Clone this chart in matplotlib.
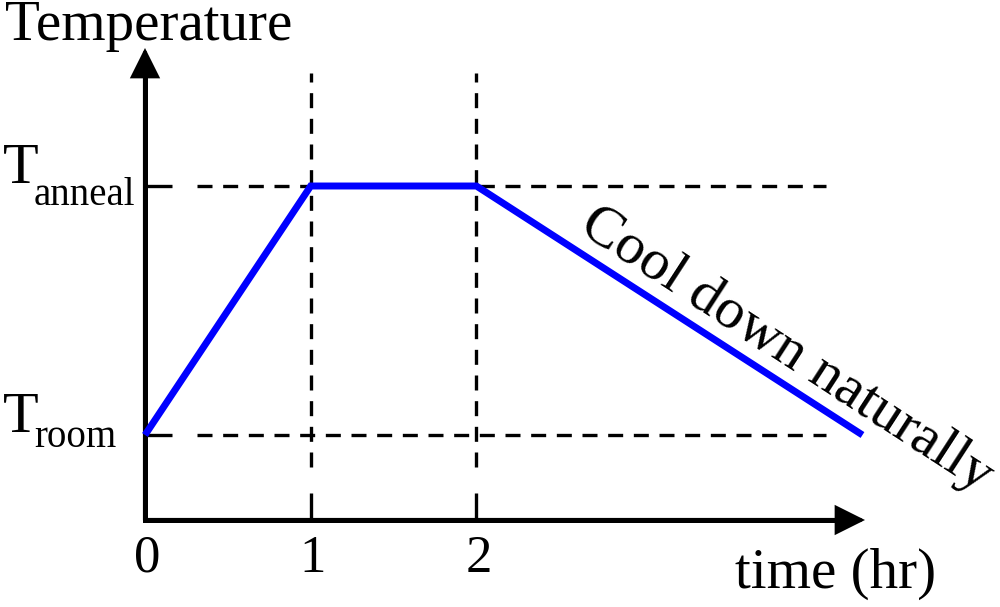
import matplotlib.pyplot as plt

# annealing profile: time in hours, level 0 = T_room, 1 = T_anneal
time_hr = [0, 1, 2, 4.33]
temp_level = [0, 1, 1, 0]

x_ticks = [0, 1, 2]
x_tick_labels = ['0', '1', '2']
y_levels = [1, 0]
y_subscripts = ['anneal', 'room']

plt.rcParams['font.family'] = ['Liberation Serif', 'DejaVu Serif']

# scale of the drawing (pixels per data unit), origin of the level axis at pixel row 435
px_x = 165.7
px_y = 249.0

fig = plt.figure(figsize=(10, 6.07), dpi=100)
ax = fig.add_axes([0, 0, 1, 1])
ax.set_xlim(-145 / px_x, 855 / px_x)
ax.set_ylim(-172 / px_y, 435 / px_y)
ax.axis('off')

y0 = -85 / px_y          # where the time axis sits
y_top = 387 / px_y       # tip of the vertical arrow
x_end = 720 / px_x       # tip of the horizontal arrow
tick_x = 27 / px_x
tick_y = 27 / px_y
gap_x = 52 / px_x
gap_y = 52 / px_y

dash = (4.5, 3.2)

# guide lines
for lv in y_levels:
    ax.plot([0, tick_x], [lv, lv], color='black', lw=2.4, solid_capstyle='butt')
    ax.plot([gap_x, 681 / px_x], [lv, lv], color='black', lw=2.4,
            ls=(0, dash), dash_capstyle='butt')
for xt in x_ticks[1:]:
    ax.plot([xt, xt], [y0, y0 + tick_y], color='black', lw=2.4, solid_capstyle='butt')
    ax.plot([xt, xt], [362 / px_y, y0 + gap_y], color='black', lw=2.4,
            ls=(1.8, dash), dash_capstyle='butt')

# axes with arrow heads
ax.plot([0, 0, x_end - 0.1], [y_top - 0.1, y0, y0], color='black', lw=3.6,
        solid_joinstyle='miter', solid_capstyle='butt')
arrow = dict(arrowstyle='-|>,head_length=1.0,head_width=0.5', lw=3.0,
             color='black', shrinkA=0, shrinkB=0, mutation_scale=17,
             joinstyle='miter')
ax.annotate('', xy=(0, y_top), xytext=(0, y0), arrowprops=arrow)
ax.annotate('', xy=(x_end, y0), xytext=(0, y0), arrowprops=arrow)

# temperature profile
ax.plot(time_hr, temp_level, color='#0000ff', lw=5, solid_joinstyle='miter',
        solid_capstyle='butt', zorder=5)

# labels
ax.annotate('Temperature', xy=(0, y_top), xytext=(-140, 8), textcoords='offset pixels',
            fontsize=41, ha='left', va='baseline')
ax.annotate('time (hr)', xy=(x_end, y0), xytext=(-130, -68), textcoords='offset pixels',
            fontsize=41, ha='left', va='baseline')
for xt, lab in zip(x_ticks, x_tick_labels):
    ax.annotate(lab, xy=(xt, y0), xytext=(2, -52), textcoords='offset pixels',
                fontsize=38, ha='center', va='baseline')

sub_drop = {'anneal': -19, 'room': -12}
for lv, sub in zip(y_levels, y_subscripts):
    ax.annotate('T', xy=(0, lv), xytext=(-142, 3), textcoords='offset pixels',
                fontsize=42, ha='left', va='baseline')
    ax.annotate(sub, xy=(0, lv), xytext=(-111, sub_drop[sub]), textcoords='offset pixels',
                fontsize=28, ha='left', va='baseline')

ax.annotate('Cool down naturally', xy=(time_hr[2], temp_level[2]), xytext=(101, -45),
            textcoords='offset pixels', fontsize=42, rotation=-33,
            rotation_mode='anchor', ha='left', va='baseline')

fig.savefig('out.png', dpi=100)
